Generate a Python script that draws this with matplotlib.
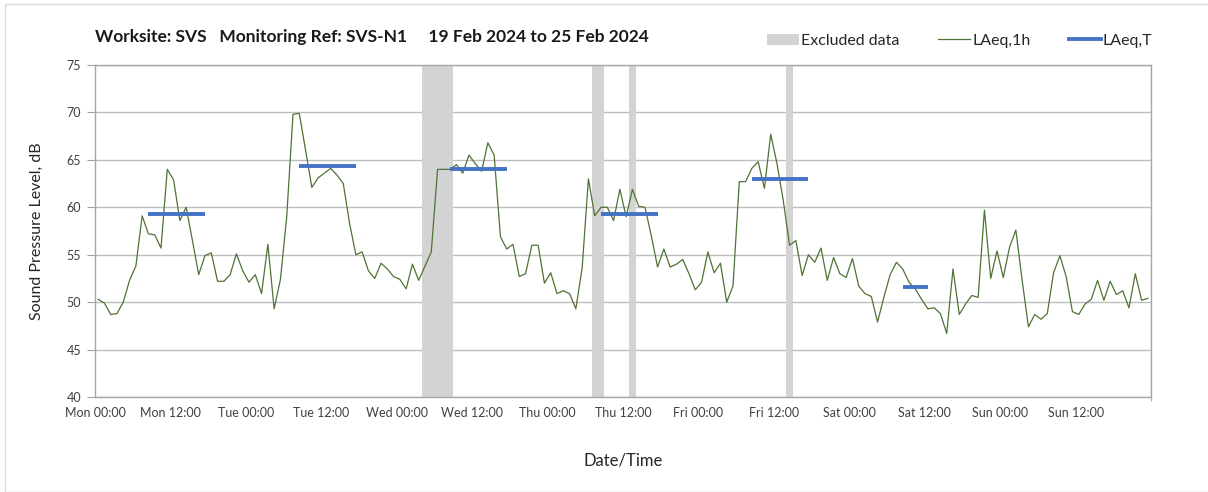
import numpy as np
import matplotlib
matplotlib.use("Agg")
import matplotlib.pyplot as plt
from matplotlib.patches import Patch, Rectangle
from matplotlib.lines import Line2D

plt.rcParams['font.family'] = ['Lato', 'DejaVu Sans']

# hourly LAeq,1h values, Mon 00:00 .. Sun 23:00
laeq_1h = [
    50.3, 49.9, 48.7, 48.8, 50.0, 52.3, 53.8, 59.1, 57.2, 57.1, 55.7, 64.0,
    62.9, 58.6, 60.0, 56.5, 52.9, 54.9, 55.2, 52.2, 52.2, 52.9, 55.1, 53.3,
    52.1, 52.9, 50.9, 56.1, 49.3, 52.4, 59.0, 69.8, 69.9, 66.0, 62.1, 63.1,
    63.6, 64.1, 63.4, 62.5, 58.3, 55.0, 55.3, 53.3, 52.5, 54.1, 53.5, 52.7,
    52.4, 51.4, 54.0, 52.3, 53.8, 55.3, 64.0, 64.0, 64.0, 64.5, 63.6, 65.5,
    64.6, 63.8, 66.8, 65.5, 56.9, 55.6, 56.1, 52.7, 53.0, 56.0, 56.0, 52.0,
    53.1, 50.9, 51.2, 50.9, 49.3, 53.6, 63.0, 59.1, 60.0, 60.0, 58.6, 61.9,
    59.0, 61.9, 60.1, 60.0, 57.0, 53.7, 55.6, 53.7, 54.0, 54.5, 53.0, 51.3,
    52.1, 55.3, 53.1, 54.1, 50.0, 51.7, 62.7, 62.7, 64.1, 64.8, 62.0, 67.7,
    64.6, 60.7, 56.0, 56.5, 52.8, 55.0, 54.2, 55.7, 52.3, 54.7, 53.0, 52.6,
    54.6, 51.7, 50.9, 50.6, 47.9, 50.5, 52.9, 54.2, 53.5, 52.1, 51.4, 50.3,
    49.3, 49.4, 48.8, 46.7, 53.5, 48.7, 49.8, 50.7, 50.5, 59.7, 52.5, 55.4,
    52.6, 55.8, 57.6, 52.3, 47.4, 48.7, 48.2, 48.8, 53.1, 54.9, 52.7, 49.0,
    48.7, 49.8, 50.3, 52.3, 50.2, 52.2, 50.8, 51.2, 49.4, 53.0, 50.2, 50.4,
]

# LAeq,T per working period: (start hour, end hour, level)
laeqt_start = [8, 32, 56, 80, 104, 128]
laeqt_end = [17, 41, 65, 89, 113, 132]
laeqt_level = [59.3, 64.3, 64.0, 59.3, 63.0, 51.6]

# excluded periods (start hour, end hour)
excl_start = [52, 79, 85, 110]
excl_end = [57, 81, 86, 111]

tick_labels = ['Mon 00:00', 'Mon 12:00', 'Tue 00:00', 'Tue 12:00',
               'Wed 00:00', 'Wed 12:00', 'Thu 00:00', 'Thu 12:00',
               'Fri 00:00', 'Fri 12:00', 'Sat 00:00', 'Sat 12:00',
               'Sun 00:00', 'Sun 12:00']

green = '#4e7335'
blue = '#4472c4'
grey = '#d3d3d3'

fig = plt.figure(figsize=(12.08, 4.92), dpi=100)
ax = fig.add_axes([95 / 1208, 1 - 397 / 492, (1151 - 95) / 1208, (397 - 65) / 492])

for s, e in zip(excl_start, excl_end):
    ax.axvspan(s, e, color=grey, lw=0, zorder=1)

hours = np.arange(len(laeq_1h)) + 0.5
ax.plot(hours, laeq_1h, color=green, lw=0.9, zorder=3)

for s, e, v in zip(laeqt_start, laeqt_end, laeqt_level):
    ax.plot([s + 0.5, e + 0.5], [v, v], color=blue, lw=2.8, solid_capstyle='butt', zorder=4)

ax.set_xlim(0, 168)
ax.set_ylim(40, 75)
ax.set_yticks(np.arange(40, 76, 5))
ax.set_xticks(np.arange(0, 168, 12))
ax.set_xticklabels(tick_labels)
ax.set_xticks(np.arange(0, 169, 12), minor=True)
ax.tick_params(axis='x', which='major', length=0, labelsize=9, colors='#404040', pad=7)
ax.tick_params(axis='x', which='minor', length=3, color='#a0a0a0', direction='out')
ax.tick_params(axis='y', length=6, color='#a0a0a0', labelsize=9, colors='#404040', pad=4)
ax.tick_params(axis='y', color='#a0a0a0')

ax.grid(axis='y', color='#bdbdbd', lw=1.0, zorder=0)
ax.grid(axis='x', which='minor', color='#e3e3e3', lw=1.0, zorder=0)
ax.set_axisbelow(True)
for sp in ax.spines.values():
    sp.set_color('#a6a6a6')
    sp.set_linewidth(1.0)

ax.set_ylabel('Sound Pressure Level, dB', fontsize=11.5, color='#262626', labelpad=16)
ax.set_xlabel('Date/Time', fontsize=12, color='#262626', labelpad=24)

fig.text(95 / 1208, 1 - 37 / 492,
         'Worksite: SVS   Monitoring Ref: SVS-N1     19 Feb 2024 to 25 Feb 2024',
         fontsize=12.5, fontweight='bold', va='center', ha='left', color='#1a1a1a')

handles = [Patch(facecolor=grey, edgecolor='none'),
           Line2D([0], [0], color=green, lw=0.9),
           Line2D([0], [0], color=blue, lw=2.8)]
fig.legend(handles, ['Excluded data', 'LAeq,1h', 'LAeq,T'],
           loc='center right', bbox_to_anchor=(1167 / 1208, 1 - 41 / 492),
           ncol=3, frameon=False, fontsize=11.5, handlelength=2.0,
           handletextpad=0.15, columnspacing=2.4, labelcolor='#262626')

fig.patches.append(Rectangle((5 / 1208, 0), 1.1, 1 - 4 / 492, transform=fig.transFigure,
                             fill=False, edgecolor='#d9d9d9', lw=1.0))

fig.savefig('out.png', dpi=100, facecolor='white')
